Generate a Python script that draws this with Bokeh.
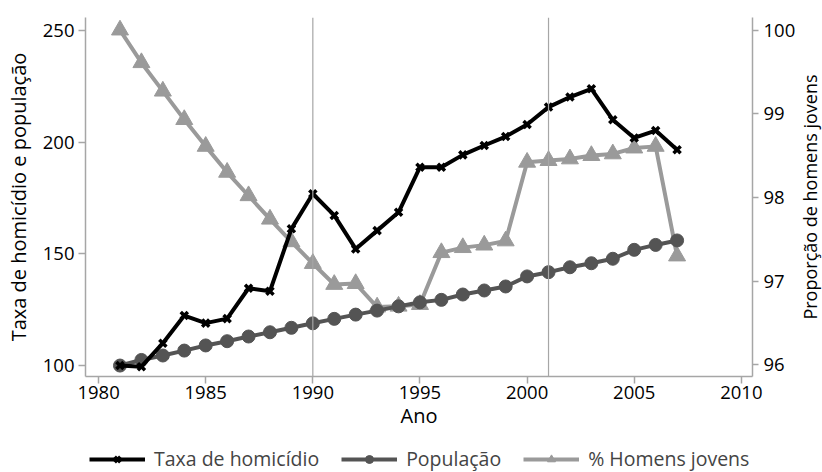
import math
from bokeh.plotting import figure
from bokeh.layouts import row, column
from bokeh.models import LinearAxis, Range1d, Span, Legend, LegendItem, FixedTicker
from bokeh.core.properties import value
from bokeh.embed import file_html
from bokeh.resources import INLINE

years = list(range(1981, 2008))
homicidio = [100, 99.5, 110, 122.4, 119, 121, 134.6, 133.3, 161.2, 176.9,
             167.2, 152.2, 160.4, 168.6, 188.8, 188.8, 194.3, 198.5, 202.5, 207.9,
             215.7, 220.2, 223.9, 210, 201.9, 205.2, 196.6]
populacao = [100, 102.5, 104.5, 106.7, 109, 110.9, 113, 114.9, 116.9, 118.9,
             120.9, 122.8, 124.6, 126.5, 128.3, 129.4, 131.8, 133.6, 135.4, 139.9,
             141.8, 144, 145.8, 147.8, 151.8, 154, 156]
homens_jovens = [100.0, 99.61, 99.27, 98.93, 98.61, 98.30, 98.02, 97.74, 97.47, 97.21,
                 96.96, 96.97, 96.69, 96.70, 96.72, 97.34, 97.40, 97.43, 97.48, 98.42,
                 98.44, 98.46, 98.50, 98.52, 98.59, 98.61, 97.30]
series_names = ["Taxa de homicídio", "População", "% Homens jovens"]
x_ticks = [1980, 1985, 1990, 1995, 2000, 2005, 2010]
left_ticks = [100, 150, 200, 250]
right_ticks = [96, 97, 98, 99, 100]
vlines = [1990, 2001]
right_title = "Proporção de homens jovens"

FONT = "Open Sans"
AXC = "#a6a6a6"
C_HOM = "#000000"
C_POP = "#545454"
C_JOV = "#9a9a9a"
NAN = float("nan")

p = figure(width=798, height=440, output_backend="svg", toolbar_location=None,
           x_range=Range1d(1979.39, 2010.52), y_range=Range1d(95.1, 255.8),
           min_border_left=85, min_border_right=45, min_border_top=17, min_border_bottom=64)
p.outline_line_color = None
p.xgrid.visible = False
p.ygrid.visible = False
p.extra_y_ranges = {"right": Range1d(95.86, 100.15)}

for v in vlines:
    p.add_layout(Span(location=v, dimension="height", line_color=AXC, line_width=1.2))

p.line(years, homens_jovens, y_range_name="right", line_color=C_JOV, line_width=4)
p.scatter(years, homens_jovens, y_range_name="right", marker="triangle", size=17,
          fill_color=C_JOV, line_color=C_JOV)
p.line(years, populacao, line_color=C_POP, line_width=4)
p.scatter(years, populacao, marker="circle", size=13, fill_color=C_POP, line_color=C_POP)
p.line(years, homicidio, line_color=C_HOM, line_width=4)
p.scatter(years, homicidio, marker="x", size=10, line_color=C_HOM, line_width=3.5)

ax_b = p.xaxis[0]
ax_b.ticker = FixedTicker(ticks=x_ticks)
ax_b.axis_label = "Ano"
ax_l = p.yaxis[0]
ax_l.ticker = FixedTicker(ticks=left_ticks)
ax_l.axis_label = "Taxa de homicídio e população"
ax_r = LinearAxis(y_range_name="right", ticker=FixedTicker(ticks=right_ticks))
p.add_layout(ax_r, "right")

for ax in (ax_b, ax_l, ax_r):
    ax.axis_line_color = AXC
    ax.axis_line_width = 1.5
    ax.major_tick_line_color = AXC
    ax.major_tick_line_width = 1.5
    ax.major_tick_out = 7
    ax.major_tick_in = 0
    ax.minor_tick_line_color = None
    ax.major_label_text_font = FONT
    ax.major_label_text_font_size = "18.5px"
    ax.major_label_text_color = "#000000"
    ax.axis_label_text_font = FONT
    ax.axis_label_text_font_size = "20px"
    ax.axis_label_text_font_style = "normal"
    ax.axis_label_text_color = "#000000"
    ax.major_label_standoff = 4

ax_b.major_label_standoff = 2
ax_b.axis_label_standoff = 0
ax_l.axis_label_standoff = 8
ax_r.major_tick_out = 6
ax_r.major_label_standoff = 5

# legend strip below the chart (frame aligned with the chart's frame)
q = figure(width=798, height=32, output_backend="svg", toolbar_location=None,
           x_range=Range1d(0, 1), y_range=Range1d(0, 1),
           min_border_left=85, min_border_right=45, min_border_top=0, min_border_bottom=0)
q.outline_line_color = None
q.axis.visible = False
q.grid.visible = False
lh = q.line([NAN], [NAN], line_color=C_HOM, line_width=4)
mh = q.scatter([NAN], [NAN], marker="x", size=10, line_color=C_HOM, line_width=3.5)
lp = q.line([NAN], [NAN], line_color=C_POP, line_width=4)
mp = q.scatter([NAN], [NAN], marker="circle", size=13, fill_color=C_POP, line_color=C_POP)
lj = q.line([NAN], [NAN], line_color=C_JOV, line_width=4)
mj = q.scatter([NAN], [NAN], marker="triangle", size=17, fill_color=C_JOV, line_color=C_JOV)

legend = Legend(items=[
    LegendItem(label=series_names[0], renderers=[lh, mh]),
    LegendItem(label=series_names[1], renderers=[lp, mp]),
    LegendItem(label=series_names[2], renderers=[lj, mj]),
], orientation="horizontal", location=(4, 0))
legend.border_line_color = None
legend.background_fill_alpha = 0
legend.glyph_width = 56
legend.glyph_height = 20
legend.label_height = 20
legend.label_text_font = FONT
legend.label_text_font_size = "19.5px"
legend.label_text_baseline = "middle"
legend.label_standoff = 9
legend.spacing = 22
legend.padding = 0
legend.margin = 0
q.add_layout(legend, "center")

# narrow strip carrying the right-hand axis title, reading upwards
r = figure(width=24, height=472, output_backend="svg", toolbar_location=None,
           x_range=Range1d(0, 24), y_range=Range1d(0, 1),
           min_border_left=0, min_border_right=0, min_border_top=17, min_border_bottom=96)
r.outline_line_color = None
r.axis.visible = False
r.grid.visible = False
r.text(x=[11], y=[0.5], text=[right_title], angle=math.pi / 2,
       text_align="center", text_baseline="alphabetic",
       text_font=value(FONT), text_font_size=value("18px"), text_color="#000000")

layout = row(column(p, q, spacing=0), r, spacing=0)
open("out.html", "w").write(file_html(layout, INLINE))
